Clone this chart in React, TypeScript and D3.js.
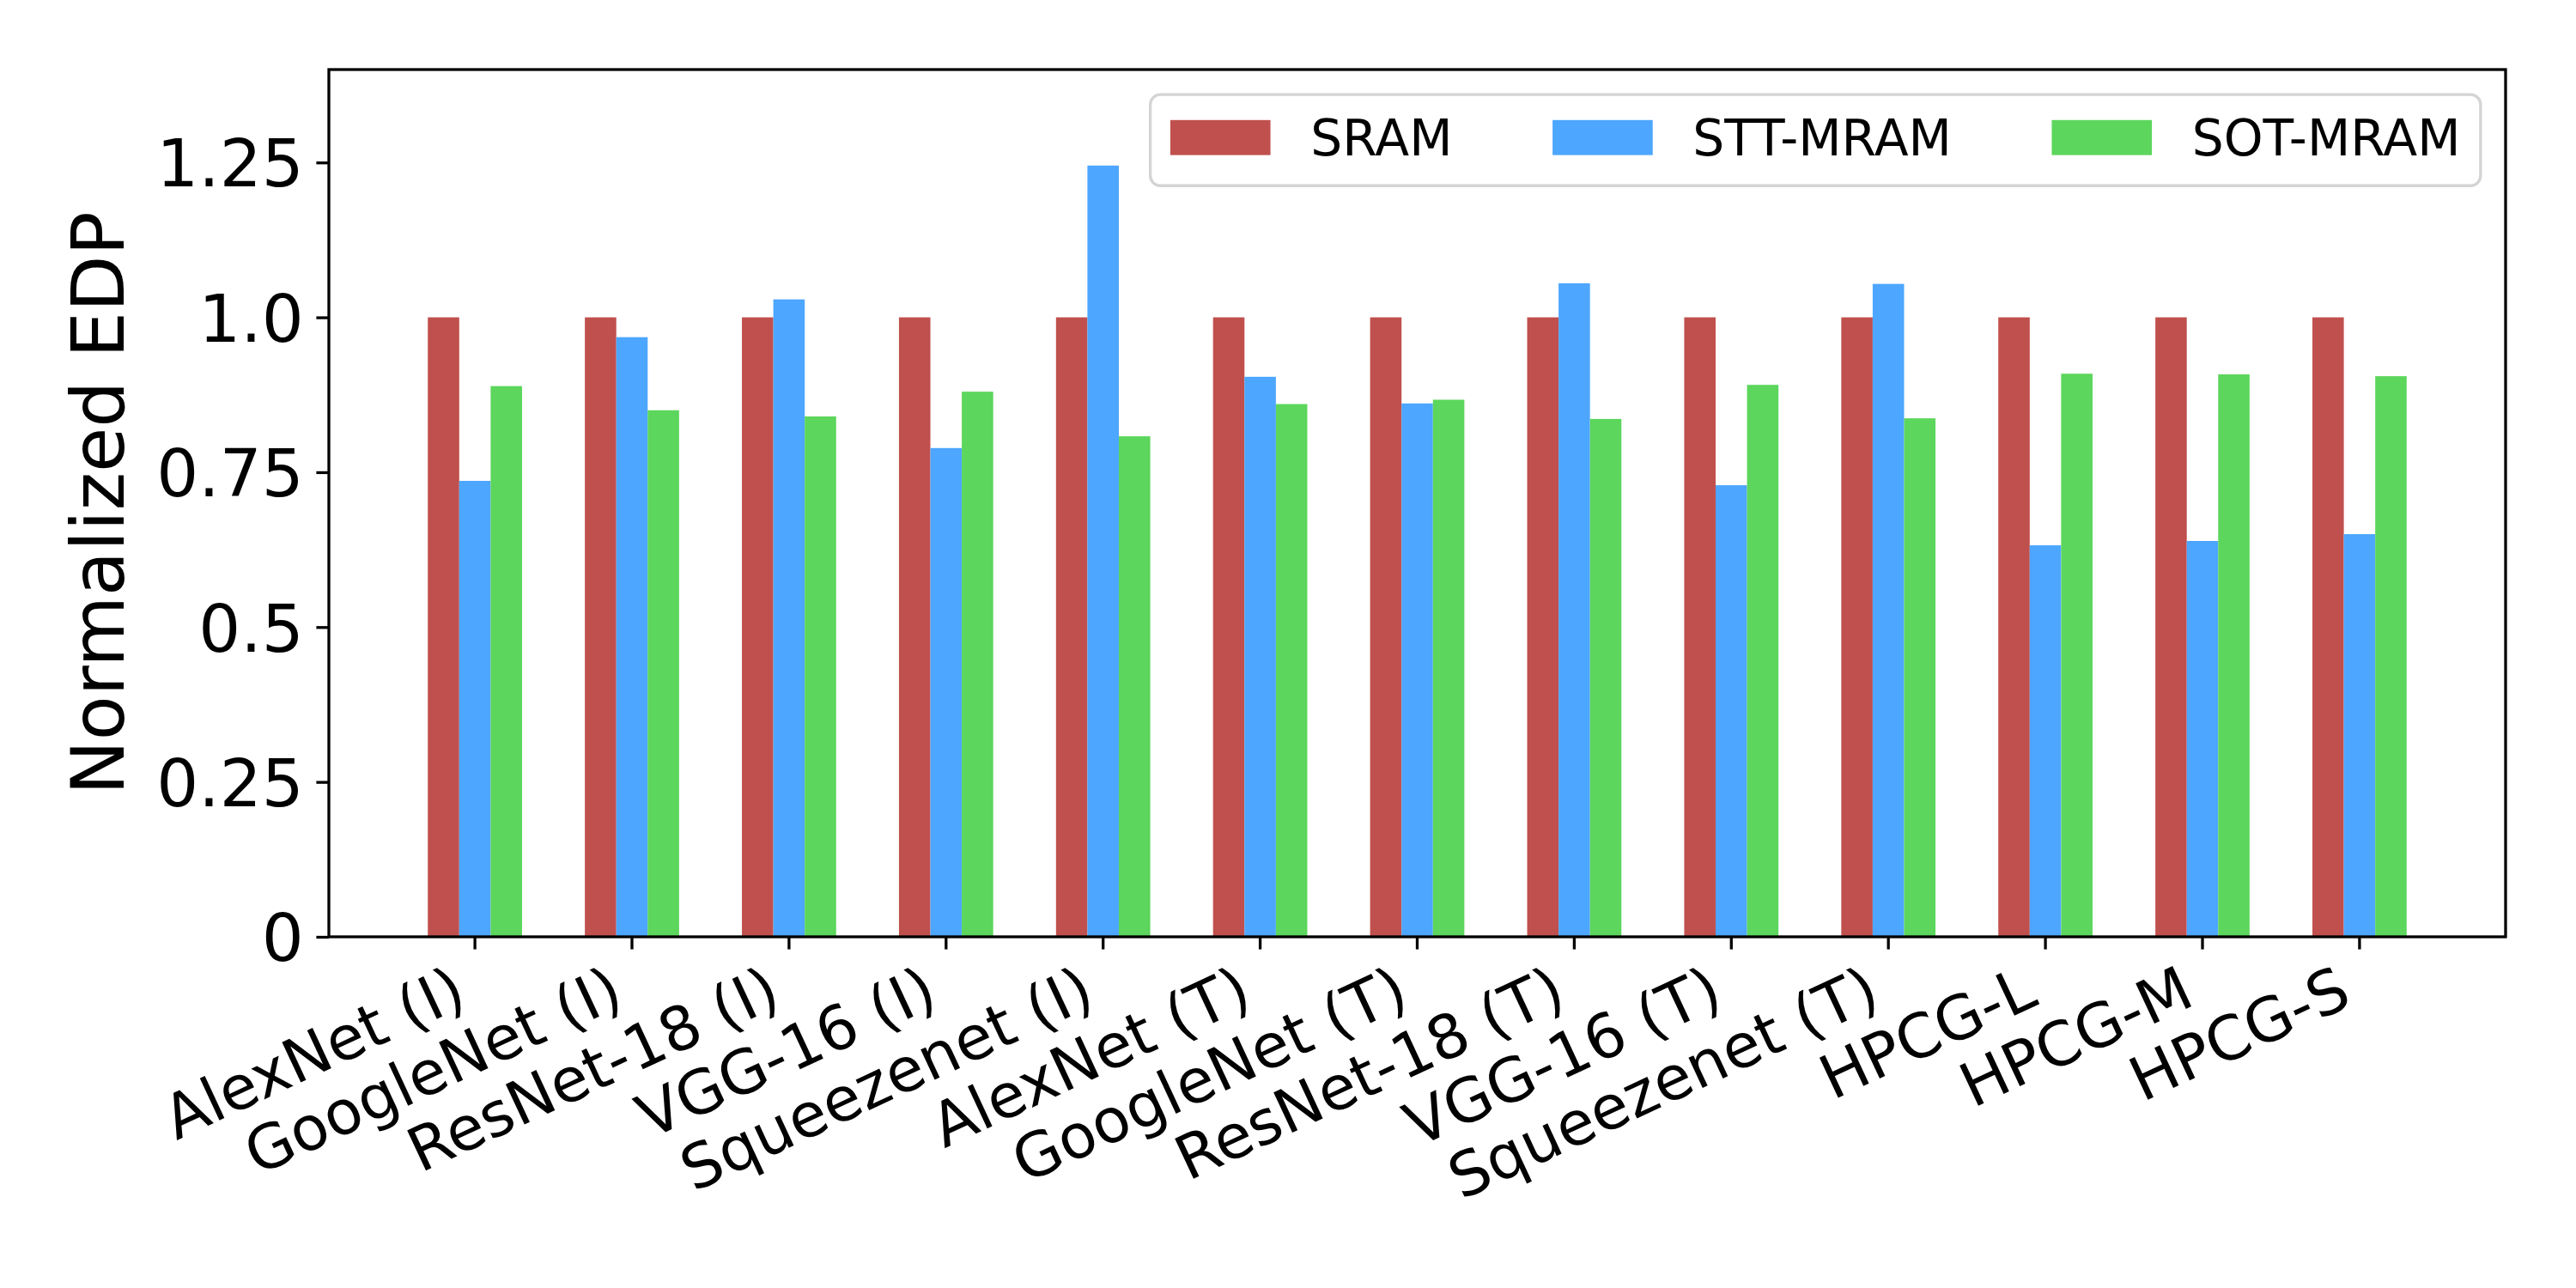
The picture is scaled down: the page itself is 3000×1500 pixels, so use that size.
import React, { useEffect, useRef } from "react";
import * as d3 from "d3";

const categories = [
  "AlexNet (I)",
  "GoogleNet (I)",
  "ResNet-18 (I)",
  "VGG-16 (I)",
  "Squeezenet (I)",
  "AlexNet (T)",
  "GoogleNet (T)",
  "ResNet-18 (T)",
  "VGG-16 (T)",
  "Squeezenet (T)",
  "HPCG-L",
  "HPCG-M",
  "HPCG-S",
];

const sram = [1.0, 1.0, 1.0, 1.0, 1.0, 1.0, 1.0, 1.0, 1.0, 1.0, 1.0, 1.0, 1.0];
const sttMram = [0.736, 0.968, 1.029, 0.789, 1.245, 0.904, 0.861, 1.055, 0.729, 1.054, 0.632, 0.639, 0.65];
const sotMram = [0.889, 0.85, 0.84, 0.88, 0.808, 0.86, 0.867, 0.836, 0.891, 0.837, 0.909, 0.908, 0.905];

const seriesNames = ["SRAM", "STT-MRAM", "SOT-MRAM"];
const seriesColors = ["#c0504d", "#4da6ff", "#5cd65c"];

const yTicks = [0, 0.25, 0.5, 0.75, 1.0, 1.25];
const yTickLabels = ["0", "0.25", "0.5", "0.75", "1.0", "1.25"];

const yLabel = "Normalized EDP";

const App: React.FC = () => {
  const svgRef = useRef<SVGSVGElement>(null);
  const width = 3000;
  const height = 1500;

  useEffect(() => {
    if (!svgRef.current) return;
    const svg = d3.select(svgRef.current);
    svg.selectAll("*").remove();

    const marginLeft = 383;
    const marginRight = 82;
    const marginTop = 81;
    const marginBottom = 409;
    const font = "DejaVu Sans, sans-serif";
    const tickFont = 77;
    const xTickFont = 71;
    const labelFont = 85;
    const legendFont = 58.3;
    const tickLen = 14.6;
    const lw = 3.3;

    const series = [sram, sttMram, sotMram];
    const barW = 0.2;
    const lo = -1.5 * barW;
    const hi = categories.length - 1 + 1.5 * barW;
    const pad = (hi - lo) * 0.05;

    const x = d3
      .scaleLinear()
      .domain([lo - pad, hi + pad])
      .range([marginLeft, width - marginRight]);
    const y = d3
      .scaleLinear()
      .domain([0, 1.4])
      .range([height - marginBottom, marginTop]);

    const x0 = marginLeft;
    const x1 = width - marginRight;
    const y0 = height - marginBottom;
    const y1 = marginTop;

    // bars
    series.forEach((vals, k) => {
      svg
        .append("g")
        .attr("fill", seriesColors[k])
        .selectAll("rect")
        .data(vals)
        .join("rect")
        .attr("x", (_, i) => x(i + (k - 1) * barW - barW / 2))
        .attr("width", x(barW) - x(0))
        .attr("y", (d) => y(d))
        .attr("height", (d) => y(0) - y(d));
    });

    // frame
    svg
      .append("rect")
      .attr("x", x0)
      .attr("y", y1)
      .attr("width", x1 - x0)
      .attr("height", y0 - y1)
      .attr("fill", "none")
      .attr("stroke", "black")
      .attr("stroke-width", lw);

    // y axis
    const yAxis = svg
      .append("g")
      .attr("transform", `translate(${x0},0)`)
      .call(
        d3
          .axisLeft(y)
          .tickValues(yTicks)
          .tickFormat((_, i) => yTickLabels[i])
          .tickSize(tickLen)
          .tickPadding(tickLen)
      );
    yAxis.select(".domain").remove();
    yAxis.selectAll(".tick line").attr("stroke-width", lw);
    yAxis
      .selectAll(".tick text")
      .attr("font-family", font)
      .attr("font-size", tickFont)
      .attr("dy", "0.36em")
      .attr("fill", "black");

    // x axis ticks + rotated labels
    const xg = svg.append("g");
    xg.selectAll("line")
      .data(categories)
      .join("line")
      .attr("x1", (_, i) => x(i))
      .attr("x2", (_, i) => x(i))
      .attr("y1", y0)
      .attr("y2", y0 + tickLen)
      .attr("stroke", "black")
      .attr("stroke-width", lw);

    const ang = (25 * Math.PI) / 180;
    const asc = 0.76 * xTickFont;
    const desc = 0.22 * xTickFont;
    const top = y0 + tickLen + tickLen;
    xg.selectAll("text")
      .data(categories)
      .join("text")
      .attr("font-family", font)
      .attr("font-size", xTickFont)
      .attr("text-anchor", "end")
      .attr("transform", (_, i) => {
        const ax = x(i) - desc * Math.sin(ang);
        const ay = top + asc * Math.cos(ang);
        return `translate(${ax},${ay}) rotate(-25)`;
      })
      .text((d) => d);

    // y label
    svg
      .append("text")
      .attr("font-family", font)
      .attr("font-size", labelFont)
      .attr("text-anchor", "middle")
      .attr("transform", `translate(144,${(y0 + y1) / 2}) rotate(-90)`)
      .text(yLabel);

    // legend
    const borderPad = 0.4 * legendFont;
    const handleW = 2.0 * legendFont;
    const handleH = 0.7 * legendFont;
    const textPad = 0.8 * legendFont;
    const colSpace = 2.0 * legendFont;
    const legend = svg.append("g");
    const frame = legend.append("rect");
    const items = legend.append("g");
    const texts = seriesNames.map((name) =>
      items
        .append("text")
        .attr("font-family", font)
        .attr("font-size", legendFont)
        .text(name)
    );
    const widths = texts.map((t) => (t.node() as SVGTextElement).getComputedTextLength());
    const totalW =
      2 * borderPad +
      d3.sum(widths) +
      seriesNames.length * (handleW + textPad) +
      (seriesNames.length - 1) * colSpace;
    const totalH = 2 * borderPad + 1.02 * legendFont;
    const lx = x1 - 0.5 * legendFont - totalW;
    const ly = y1 + 0.5 * legendFont;
    frame
      .attr("x", lx)
      .attr("y", ly)
      .attr("width", totalW)
      .attr("height", totalH)
      .attr("rx", 0.2 * legendFont)
      .attr("fill", "white")
      .attr("fill-opacity", 0.8)
      .attr("stroke", "#d4d4d4")
      .attr("stroke-width", lw);
    let cx = lx + borderPad;
    const cy = ly + totalH / 2 - 3;
    seriesNames.forEach((_, k) => {
      items
        .append("rect")
        .attr("x", cx)
        .attr("y", cy - handleH / 2)
        .attr("width", handleW)
        .attr("height", handleH)
        .attr("fill", seriesColors[k]);
      texts[k]
        .attr("x", cx + handleW + textPad)
        .attr("y", cy + 0.3645 * legendFont);
      cx += handleW + textPad + widths[k] + colSpace;
    });
  }, []);

  return (
    <svg
      ref={svgRef}
      width={width}
      height={height}
      style={{ position: "absolute", left: 0, top: 0, background: "white" }}
    />
  );
};

export default App;
